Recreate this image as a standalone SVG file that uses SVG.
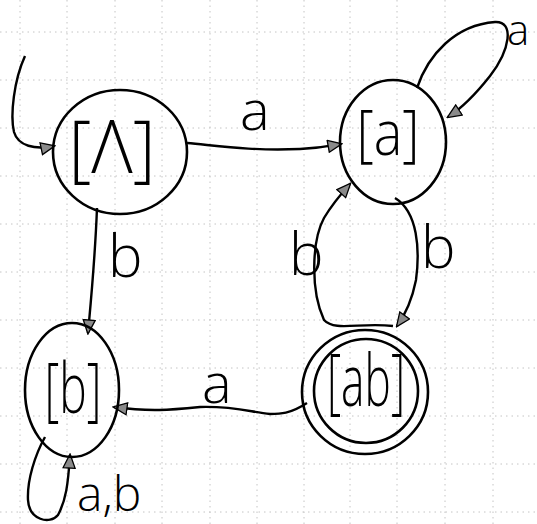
<svg xmlns="http://www.w3.org/2000/svg" width="537" height="524" viewBox="0 0 537 524">
<defs>
<style>
.grid line{stroke:#c4c4c4;stroke-width:1;stroke-dasharray:1.5 4}
.state{fill:none;stroke:#000;stroke-width:2.6}
.edge{fill:none;stroke:#000;stroke-width:2.4;marker-end:url(#arr)}
.lbl{font-family:"Open Sans","Liberation Sans",sans-serif;font-weight:300;fill:#000}
.nl{font-family:"Open Sans","Liberation Sans",sans-serif;font-weight:300;fill:#000;text-anchor:middle}
</style>
<marker id="arr" viewBox="0 0 16 14" refX="14" refY="7" markerWidth="16" markerHeight="14" markerUnits="userSpaceOnUse" orient="auto">
<path d="M1,1 L15,7 L1,13 Z" fill="#8a8a8a" stroke="#000" stroke-width="1.3"/>
</marker>
</defs>
<rect width="537" height="524" fill="#fff"/>
<g class="grid">
<line x1="0" y1="32" x2="537" y2="32"/><line x1="0" y1="80" x2="537" y2="80"/><line x1="0" y1="128" x2="537" y2="128"/><line x1="0" y1="176" x2="537" y2="176"/><line x1="0" y1="224" x2="537" y2="224"/><line x1="0" y1="272" x2="537" y2="272"/><line x1="0" y1="320" x2="537" y2="320"/><line x1="0" y1="368" x2="537" y2="368"/><line x1="0" y1="416" x2="537" y2="416"/><line x1="0" y1="464" x2="537" y2="464"/><line x1="0" y1="512" x2="537" y2="512"/>
<line x1="20" y1="0" x2="20" y2="524"/><line x1="67" y1="0" x2="67" y2="524"/><line x1="115" y1="0" x2="115" y2="524"/><line x1="162" y1="0" x2="162" y2="524"/><line x1="210" y1="0" x2="210" y2="524"/><line x1="257" y1="0" x2="257" y2="524"/><line x1="304" y1="0" x2="304" y2="524"/><line x1="350" y1="0" x2="350" y2="524"/><line x1="397" y1="0" x2="397" y2="524"/><line x1="445" y1="0" x2="445" y2="524"/><line x1="493" y1="0" x2="493" y2="524"/>
</g>
<g id="connectors">
<path class="edge" d="M25 56 C14 80,10 115,14 132 C18 146,35 150,54 146"/>
<path class="edge" d="M187 143 C220 146,250 151,300 149 C320 148,330 146,341 144"/>
<path class="edge" d="M417 88 C428 55,455 25,495 22 C515 21,510 50,490 76 C475 95,462 108,448 117"/>
<path class="edge" d="M97 208 C95 260,91 300,88 333"/>
<path class="edge" d="M395 198 C418 212,420 250,416 280 C412 300,405 315,397 326"/>
<path class="edge" d="M393 326 C360 322,335 332,324 320 C310 290,312 240,324 218 C330 208,340 195,350 184"/>
<path class="edge" d="M307 403 C290 414,280 414,270 414 C250 412,235 406,200 407 C170 410,150 412,114 407"/>
<path class="edge" d="M45 437 C35 455,27 480,28 500 C29 520,50 525,58 515 C66 500,68 485,70 455"/>
<text class="lbl" x="240" y="130" font-size="56">a</text>
<text class="lbl" x="507" y="45" font-size="42">a</text>
<text class="lbl" x="108" y="277" font-size="58">b</text>
<text class="lbl" x="289" y="275" font-size="58">b</text>
<text class="lbl" x="421" y="268" font-size="58">b</text>
<text class="lbl" x="202" y="403" font-size="56">a</text>
<text class="lbl" x="77" y="511" font-size="48">a,b</text>
</g>
<g id="state-lambda">
<ellipse class="state" cx="120" cy="152" rx="67" ry="62"/>
<text class="nl" x="112" y="173" font-size="73" textLength="87" lengthAdjust="spacingAndGlyphs">[Λ]</text>
</g>
<g id="state-a">
<ellipse class="state" cx="393" cy="142" rx="53" ry="62"/>
<text class="nl" x="388" y="155" font-size="62" textLength="63" lengthAdjust="spacingAndGlyphs">[a]</text>
</g>
<g id="state-b">
<ellipse class="state" cx="72" cy="390" rx="47" ry="67"/>
<text class="nl" x="73" y="413" font-size="70" textLength="57" lengthAdjust="spacingAndGlyphs">[b]</text>
</g>
<g id="state-ab">
<ellipse class="state" cx="365" cy="392" rx="63" ry="62"/>
<ellipse class="state" cx="366" cy="391" rx="52" ry="52"/>
<text class="nl" x="366" y="406" font-size="72" textLength="78" lengthAdjust="spacingAndGlyphs">[ab]</text>
</g>
</svg>
